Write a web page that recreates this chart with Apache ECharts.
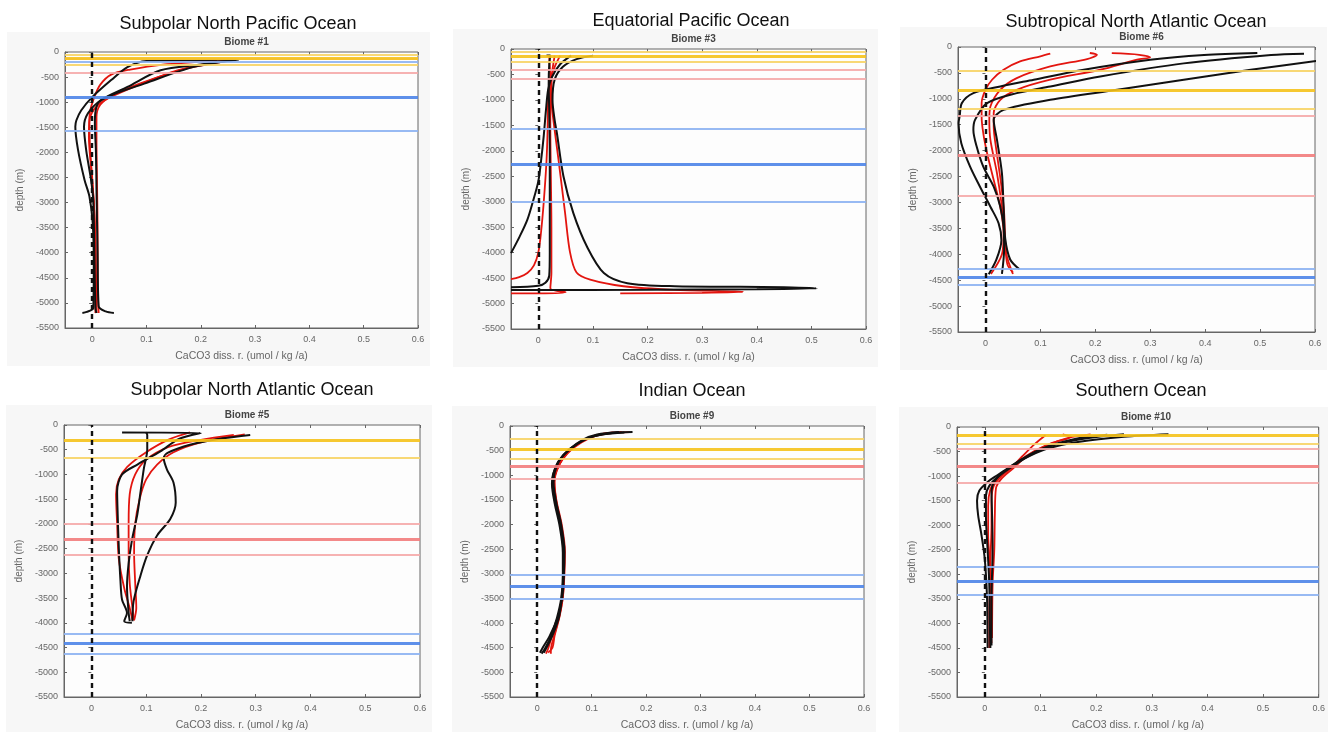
<!DOCTYPE html>
<html>
<head>
<meta charset="utf-8">
<title>CaCO3 dissolution rate profiles by biome</title>
<script src="https://cdn.jsdelivr.net/npm/echarts@6/dist/echarts.min.js"></script>
<style>
  html, body { margin: 0; padding: 0; background: #fff; }
  #chart { width: 1328px; height: 732px; }
</style>
</head>
<body>
<div id="chart"></div>
<script>
// tick labels
const xTickValues = [0, 0.1, 0.2, 0.3, 0.4, 0.5, 0.6];

// profiles: [CaCO3 diss. rate, depth]
// --- Subpolar North Pacific (Biome #1)
const spnpBlack = [
  [[0.26,-150],[0.18,-165],[0.10,-178],[0.065,-300],[0.035,-560],[0.001,-890],[-0.02,-1160],[-0.029,-1360],[-0.031,-1490],[-0.026,-1950],[-0.014,-2550],[-0.005,-2880],[0.001,-3400],[0.003,-4200],[0.002,-5100],[-0.01,-5180],[-0.018,-5200]],
  [[0.265,-150],[0.2,-250],[0.126,-364],[0.065,-696],[0.016,-961],[-0.008,-1226],[-0.015,-1491],[-0.011,-1955],[-0.002,-2551],[0.002,-2950],[0.004,-4000],[0.006,-5100],[0.008,-5200]],
  [[0.27,-150],[0.187,-297],[0.096,-630],[0.035,-862],[0.012,-1000],[0.006,-1200],[0.005,-1425],[0.007,-2000],[0.008,-2750],[0.01,-4000],[0.012,-5070],[0.025,-5170],[0.04,-5200]]
];
const spnpRed = [
  [[0.25,-150],[0.157,-364],[0.077,-696],[0.023,-961],[0.003,-1150],[-0.005,-1400],[-0.004,-1900],[0.0,-2500],[0.004,-3200],[0.006,-4200],[0.006,-5200]],
  [[0.26,-160],[0.17,-340],[0.09,-620],[0.04,-850],[0.015,-1050],[0.008,-1300],[0.008,-1800],[0.009,-2600],[0.01,-3600],[0.01,-4600],[0.012,-5200]],
  [[0.23,-170],[0.13,-250],[0.07,-350],[0.035,-450],[0.015,-650],[0.004,-900],[-0.004,-1200],[-0.006,-1700],[-0.002,-2300],[0.003,-3000],[0.006,-3800],[0.008,-5200]]
];
const spnpYellow = [-60, -130, -250];
const spnpRedLines = [-140, -417];
const spnpBlue = [-185, -894, -1571];

// --- Equatorial Pacific (Biome #3)
const eqpBlack = [
  [[0.06,-130],[0.04,-300],[0.025,-550],[0.018,-800],[0.014,-1200],[0.01,-1700],[0.005,-2200],[0.0,-2600],[-0.01,-3000],[-0.02,-3350],[-0.034,-3680],[-0.05,-4010]],
  [[0.015,-130],[0.022,-130],[0.02,-300],[0.019,-700],[0.02,-1200],[0.021,-2000],[0.021,-3000],[0.021,-4000],[0.02,-4450],[0.013,-4590],[0.0,-4650],[-0.05,-4680]],
  [[0.1,-130],[0.07,-200],[0.045,-350],[0.03,-600],[0.026,-1000],[0.03,-1400],[0.034,-1650],[0.046,-2500],[0.064,-3220],[0.089,-3880],[0.12,-4400],[0.163,-4600],[0.25,-4660],[0.37,-4670],[0.45,-4680],[0.51,-4700],[0.4,-4720],[0.2,-4730],[-0.05,-4735]]
];
const eqpRed = [
  [[0.04,-130],[0.03,-350],[0.022,-600],[0.018,-1000],[0.017,-1600],[0.015,-2200],[0.01,-3000],[0.005,-3600],[0.0,-4000],[-0.008,-4250],[-0.02,-4400],[-0.035,-4480],[-0.05,-4520]],
  [[0.03,-130],[0.025,-500],[0.024,-1000],[0.028,-1430],[0.037,-2180],[0.049,-3220],[0.058,-3990],[0.07,-4390],[0.095,-4530],[0.156,-4660],[0.248,-4730],[0.36,-4760],[0.375,-4770],[0.3,-4790],[0.15,-4800]],
  [[0.02,-150],[0.022,-600],[0.022,-1500],[0.023,-2500],[0.024,-3500],[0.024,-4400],[0.022,-4700],[0.05,-4780],[0.0,-4800],[-0.05,-4800]]
];
const eqpYellow = [-60, -150, -250];
const eqpRedLines = [-406, -583];
const eqpBlue = [-1565, -2272, -2993];

// --- Subtropical North Atlantic (Biome #6)
const stnaBlack = [
  [[0.495,-116],[0.398,-155],[0.3,-246],[0.179,-439],[0.088,-632],[0.027,-761],[-0.022,-890],[-0.043,-1083],[-0.047,-1340],[-0.049,-1470],[-0.044,-1857],[-0.028,-2309],[-0.01,-2696],[0.009,-3083],[0.024,-3404],[0.029,-3727],[0.02,-4100],[0.006,-4385]],
  [[0.58,-130],[0.52,-155],[0.361,-316],[0.209,-568],[0.118,-761],[0.057,-890],[0.003,-1083],[-0.019,-1406],[-0.022,-1600],[-0.016,-1922],[-0.004,-2309],[0.015,-2696],[0.027,-3083],[0.033,-3470],[0.034,-3900],[0.03,-4380]],
  [[0.61,-260],[0.483,-439],[0.361,-632],[0.24,-826],[0.118,-1019],[0.033,-1213],[0.015,-1406],[0.021,-1793],[0.03,-2437],[0.033,-3083],[0.036,-3700],[0.045,-4100],[0.062,-4290]]
];
const stnaRed = [
  [[0.118,-130],[0.1,-181],[0.063,-278],[0.033,-439],[0.012,-632],[0.0,-826],[-0.007,-1083],[-0.007,-1340],[-0.004,-1663],[0.003,-2050],[0.015,-2567],[0.027,-3083],[0.033,-3598],[0.03,-4000],[0.01,-4380]],
  [[0.19,-116],[0.203,-150],[0.185,-232],[0.118,-375],[0.057,-600],[0.027,-826],[0.009,-1149],[0.007,-1400],[0.009,-1793],[0.021,-2437],[0.03,-3083],[0.035,-3600],[0.038,-4000],[0.05,-4380]],
  [[0.23,-120],[0.28,-150],[0.3,-200],[0.276,-246],[0.209,-439],[0.118,-632],[0.057,-826],[0.027,-1019],[0.015,-1275],[0.015,-1535],[0.02,-2000],[0.028,-2600],[0.034,-3200],[0.036,-3800],[0.04,-4200],[0.05,-4350]]
];
const stnaYellow = [-458, -825, -1193];
const stnaRedLines = [-1322, -2095, -2869];
const stnaBlue = [-4288, -4449, -4584];

// --- Subpolar North Atlantic (Biome #5)
const spnaBlack = [
  [[0.056,-150],[0.2,-160],[0.16,-280],[0.126,-533],[0.084,-800],[0.056,-1000],[0.047,-1333],[0.048,-1800],[0.05,-2467],[0.053,-3133],[0.056,-3533],[0.065,-3800],[0.06,-3967],[0.074,-4000]],
  [[0.1,-150],[0.102,-200],[0.102,-500],[0.096,-867],[0.09,-1333],[0.084,-1800],[0.074,-2333],[0.068,-2800],[0.065,-3267],[0.068,-3800],[0.07,-3967]],
  [[0.29,-200],[0.24,-270],[0.18,-400],[0.14,-560],[0.132,-667],[0.138,-900],[0.15,-1167],[0.154,-1567],[0.144,-1900],[0.12,-2233],[0.102,-2633],[0.09,-3033],[0.077,-3567],[0.075,-3967]]
];
const spnaRed = [
  [[0.18,-150],[0.14,-300],[0.1,-550],[0.065,-850],[0.05,-1100],[0.045,-1400],[0.047,-2000],[0.05,-2700],[0.06,-3300],[0.07,-3700],[0.075,-3950]],
  [[0.26,-200],[0.2,-300],[0.14,-450],[0.1,-700],[0.08,-1000],[0.07,-1400],[0.068,-2000],[0.068,-2600],[0.07,-3200],[0.075,-3700],[0.078,-3950]],
  [[0.28,-190],[0.2,-350],[0.15,-550],[0.12,-800],[0.1,-1100],[0.088,-1500],[0.08,-2000],[0.078,-2600],[0.08,-3200],[0.082,-3700],[0.078,-3950]]
];
const spnaYellow = [-313, -667];
const spnaRedLines = [-2000, -2320, -2620];
const spnaBlue = [-4213, -4413, -4620];

// --- Indian Ocean (Biome #9)
const ioBlack = [
  [[0.175,-120],[0.13,-150],[0.095,-240],[0.064,-440],[0.042,-680],[0.032,-950],[0.03,-1150],[0.035,-1550],[0.044,-2000],[0.05,-2550],[0.049,-3000],[0.046,-3480],[0.038,-3880],[0.022,-4280],[0.01,-4500],[0.005,-4600]],
  [[0.16,-130],[0.12,-170],[0.09,-260],[0.06,-460],[0.04,-700],[0.03,-960],[0.028,-1150],[0.033,-1550],[0.042,-2000],[0.048,-2550],[0.048,-3000],[0.045,-3480],[0.04,-3880],[0.028,-4250],[0.018,-4480],[0.012,-4600]],
  [[0.15,-120],[0.11,-170],[0.085,-270],[0.058,-480],[0.039,-720],[0.029,-980],[0.027,-1170],[0.032,-1570],[0.041,-2020],[0.047,-2570],[0.047,-3020],[0.044,-3500],[0.036,-3900],[0.024,-4300],[0.014,-4520],[0.008,-4620]]
];
const ioRed = [
  [[0.17,-125],[0.125,-160],[0.095,-250],[0.066,-450],[0.045,-700],[0.034,-950],[0.031,-1150],[0.036,-1550],[0.045,-2000],[0.051,-2550],[0.05,-3000],[0.047,-3480],[0.04,-3880],[0.03,-4300],[0.025,-4550],[0.025,-4620]],
  [[0.14,-130],[0.115,-170],[0.09,-260],[0.062,-470],[0.043,-720],[0.033,-970],[0.03,-1160],[0.034,-1560],[0.043,-2010],[0.049,-2560],[0.048,-3010],[0.045,-3490],[0.038,-3890],[0.026,-4300],[0.02,-4520],[0.016,-4620]],
  [[0.155,-120],[0.12,-160],[0.092,-250],[0.066,-430],[0.048,-650],[0.036,-900],[0.032,-1120],[0.035,-1530],[0.043,-1990],[0.049,-2540],[0.049,-2990],[0.047,-3470],[0.041,-3870],[0.032,-4250],[0.028,-4500],[0.02,-4600]]
];
const ioYellow = [-267, -480, -667];
const ioRedLines = [-813, -1080];
const ioBlue = [-3013, -3253, -3500];

// --- Southern Ocean (Biome #10)
const soBlack = [
  [[0.33,-150],[0.25,-200],[0.17,-300],[0.11,-450],[0.07,-650],[0.04,-850],[0.02,-1000],[0.005,-1120],[-0.01,-1300],[-0.014,-1500],[-0.012,-1800],[-0.006,-2200],[0.0,-2700],[0.004,-3500],[0.005,-4500]],
  [[0.25,-150],[0.19,-220],[0.13,-350],[0.085,-550],[0.05,-800],[0.025,-1000],[0.008,-1200],[0.002,-1400],[0.002,-1800],[0.005,-2500],[0.008,-3200],[0.009,-4000],[0.01,-4500]],
  [[0.22,-160],[0.16,-250],[0.1,-450],[0.06,-700],[0.035,-900],[0.018,-1100],[0.012,-1300],[0.013,-1800],[0.014,-2500],[0.012,-3500],[0.012,-4450]]
];
const soRed = [
  [[0.109,-167],[0.091,-333],[0.067,-600],[0.044,-867],[0.021,-1067],[0.01,-1267],[0.006,-1600],[0.006,-2200],[0.01,-3000],[0.008,-3800],[0.008,-4500]],
  [[0.14,-150],[0.155,-200],[0.12,-330],[0.08,-550],[0.05,-800],[0.03,-1000],[0.016,-1200],[0.012,-1500],[0.012,-2000],[0.01,-2800],[0.01,-3600],[0.012,-4400]],
  [[0.19,-150],[0.15,-220],[0.11,-380],[0.075,-600],[0.05,-850],[0.03,-1050],[0.02,-1250],[0.018,-1800],[0.017,-2500],[0.014,-3200],[0.013,-4300]]
];
const soYellow = [-167, -347];
const soRedLines = [-453, -807, -1133];
const soBlue = [-2853, -3133, -3420];

// layout of the six panels
const panels = [
  { title: 'Subpolar North Pacific Ocean', biome: 'Biome #1', box: [65, 52, 353, 276], tx: 233, ty: 10, by: 32,
    black: spnpBlack, red: spnpRed, yellow: spnpYellow, redLines: spnpRedLines, blue: spnpBlue, thick: [1, -1, 1] },
  { title: 'Equatorial Pacific Ocean', biome: 'Biome #3', box: [511, 49, 355, 280], tx: 686, ty: 7, by: 29,
    black: eqpBlack, red: eqpRed, yellow: eqpYellow, redLines: eqpRedLines, blue: eqpBlue, thick: [1, -1, 1] },
  { title: 'Subtropical North Atlantic Ocean', biome: 'Biome #6', box: [958, 47, 357, 285], tx: 1131, ty: 8, by: 27,
    black: stnaBlack, red: stnaRed, yellow: stnaYellow, redLines: stnaRedLines, blue: stnaBlue, thick: [1, 1, 1] },
  { title: 'Subpolar North Atlantic Ocean', biome: 'Biome #5', box: [64, 425, 356, 275], tx: 247, ty: 376, by: 405,
    black: spnaBlack, red: spnaRed, yellow: spnaYellow, redLines: spnaRedLines, blue: spnaBlue, thick: [0, 1, 1] },
  { title: 'Indian Ocean', biome: 'Biome #9', box: [510, 426, 354, 275], tx: 687, ty: 377, by: 406,
    black: ioBlack, red: ioRed, yellow: ioYellow, redLines: ioRedLines, blue: ioBlue, thick: [1, 0, 1] },
  { title: 'Southern Ocean', biome: 'Biome #10', box: [957, 427, 368, 275], tx: 1136, ty: 377, by: 407,
    black: soBlack, red: soRed, yellow: soYellow, redLines: soRedLines, blue: soBlue, thick: [0, 1, 1] }
];

const FONT = 'Liberation Sans, Arial, sans-serif';
const lineColors = {
  yellow: ['#f7d466', '#f5c21b'],
  red: ['#f5aaaa', '#f27c7c'],
  blue: ['#8db2f2', '#4d84e8']
};

const chart = echarts.init(document.getElementById('chart'));
const grids = [], xAxes = [], yAxes = [], series = [], titles = [], graphics = [];

panels.forEach((p, i) => {
  const [left, top, width, height] = p.box;
  grids.push({ left, top, width, height, show: true, borderColor: '#666', borderWidth: 1, backgroundColor: '#fdfdfd' });
  graphics.push({ type: 'rect', z: -10, shape: { x: left - 58, y: top - 20, width: width + 70, height: height + 58 },
    style: { fill: '#f7f7f7' } });

  titles.push({ text: p.title, left: p.tx, top: p.ty, textAlign: 'center',
    textStyle: { fontFamily: FONT, fontSize: 18, fontWeight: 'normal', color: '#111' } });
  titles.push({ text: p.biome, left: left + width / 2, top: p.by, textAlign: 'center',
    textStyle: { fontFamily: FONT, fontSize: 10, fontWeight: 'bold', color: '#444' } });

  xAxes.push({
    type: 'value', gridIndex: i, position: 'bottom', min: -0.05, max: 0.6, interval: 0.05,
    name: 'CaCO3 diss. r. (umol / kg /a)', nameLocation: 'middle', nameGap: 23,
    nameTextStyle: { fontFamily: FONT, fontSize: 10.5, color: '#666' },
    axisLine: { onZero: false, lineStyle: { color: '#666' } },
    axisTick: { inside: true, length: 3, customValues: xTickValues, lineStyle: { color: '#666' } },
    axisLabel: { customValues: xTickValues, fontFamily: FONT, fontSize: 9, color: '#666', margin: 7 },
    splitLine: { show: false }
  });
  xAxes.push({
    type: 'value', gridIndex: i, position: 'top', min: -0.05, max: 0.6, interval: 0.05,
    axisLine: { show: false },
    axisTick: { inside: true, length: 3, customValues: xTickValues, lineStyle: { color: '#666' } },
    axisLabel: { show: false }, splitLine: { show: false }
  });
  yAxes.push({
    type: 'value', gridIndex: i, position: 'left', min: -5500, max: 0, interval: 500,
    name: 'depth (m)', nameLocation: 'middle', nameGap: 40,
    nameTextStyle: { fontFamily: FONT, fontSize: 10, color: '#666' },
    axisLine: { onZero: false, lineStyle: { color: '#666' } },
    axisTick: { inside: true, length: 3, lineStyle: { color: '#666' } },
    axisLabel: { fontFamily: FONT, fontSize: 9, color: '#666', margin: 6, formatter: v => String(v) },
    splitLine: { show: false }
  });
  yAxes.push({
    type: 'value', gridIndex: i, position: 'right', min: -5500, max: 0, interval: 500,
    axisLine: { show: false },
    axisTick: { inside: true, length: 3, lineStyle: { color: '#666' } },
    axisLabel: { show: false }, splitLine: { show: false }
  });

  // reference levels + zero line
  const ml = [];
  [['blue', p.blue, p.thick[2]], ['red', p.redLines, p.thick[1]], ['yellow', p.yellow, p.thick[0]]].forEach(([c, arr, th]) => {
    arr.forEach((d, k) => {
      const isThick = k === th;
      ml.push({ yAxis: d, lineStyle: { color: lineColors[c][isThick ? 1 : 0], width: isThick ? 3.2 : 2, type: 'solid', opacity: 0.9 } });
    });
  });
  ml.push({ xAxis: 0, lineStyle: { color: '#111', width: 2.4, type: [5, 4] } });
  series.push({
    type: 'line', xAxisIndex: 2 * i, yAxisIndex: 2 * i, data: [], z: 1,
    markLine: { silent: true, symbol: ['none', 'none'], label: { show: false }, data: ml, animation: false }
  });

  p.red.forEach(c => series.push({
    type: 'line', xAxisIndex: 2 * i, yAxisIndex: 2 * i, data: c, showSymbol: false, smooth: 0.3, z: 3,
    lineStyle: { color: '#e3150f', width: 1.8 }
  }));
  p.black.forEach(c => series.push({
    type: 'line', xAxisIndex: 2 * i, yAxisIndex: 2 * i, data: c, showSymbol: false, smooth: 0.3, z: 4,
    lineStyle: { color: '#111', width: 2 }
  }));
});

chart.setOption({
  animation: false,
  backgroundColor: '#fff',
  title: titles,
  grid: grids,
  xAxis: xAxes,
  yAxis: yAxes,
  series: series,
  graphic: graphics
});
</script>
</body>
</html>
